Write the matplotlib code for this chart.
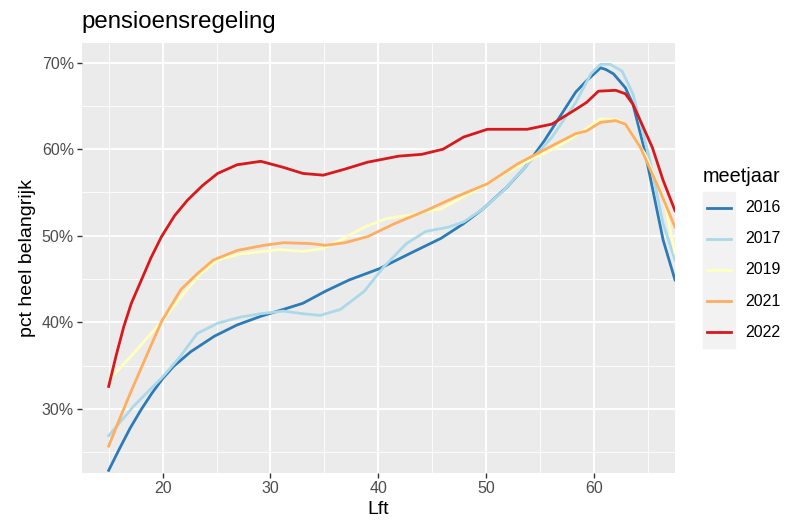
import matplotlib.pyplot as plt
import numpy as np

plt.rcParams['font.family'] = ['Liberation Sans', 'DejaVu Sans']

# leeftijd / percentage per meetjaar
jaren = ['2016', '2017', '2019', '2021', '2022']
kleuren = ['#2C7BB6', '#ABD9E9', '#FFFFBF', '#FDAE61', '#D7191C']

lft_2016 = [15, 16, 17, 18, 19, 20, 21, 22.6, 24.8, 26.9, 29.1, 31.2, 33, 35.1, 37.3, 40.1, 43, 45.8, 47.9, 49.7,
            51.9, 53.6, 55.4, 56.8, 58.3, 59.3, 60.6, 61.1, 61.8, 62.9, 63.6, 64.7, 66.4, 67.5]
pct_2016 = [22.9, 25.4, 27.8, 29.9, 31.8, 33.5, 34.9, 36.6, 38.4, 39.7, 40.7, 41.5, 42.2, 43.6, 44.9, 46.2, 48.0,
            49.7, 51.4, 53.1, 55.6, 57.9, 61.0, 63.7, 66.6, 67.9, 69.4, 69.2, 68.7, 67.1, 65.2, 59.8, 49.5, 44.9]

lft_2017 = [15, 17.3, 20, 21.6, 23.2, 25.1, 27.2, 29.1, 31.2, 33, 34.6, 36.5, 38.7, 40.5, 42.6, 44.4, 46.5, 47.9,
            49.7, 51.5, 53.3, 56.1, 58.3, 59.7, 60.6, 61.5, 62.6, 63.6, 65.1, 66.4, 67.5]
pct_2017 = [26.9, 30.3, 33.7, 36.0, 38.7, 39.9, 40.6, 41.0, 41.3, 41.0, 40.8, 41.5, 43.6, 46.4, 49.1, 50.5, 51.0,
            51.6, 53.1, 55.1, 57.5, 61.4, 65.4, 68.7, 69.8, 69.8, 69.0, 66.4, 59.1, 51.4, 47.2]

lft_2019 = [15, 17.3, 19.9, 21.7, 23.5, 25.1, 27.2, 29.4, 30.9, 33, 34.8, 36.5, 38.7, 40.8, 42.9, 45.8, 47.9,
            50.1, 52.2, 54.3, 56.5, 58.6, 60.6, 62.2, 62.9, 64.7, 66.5, 67.5]
pct_2019 = [33.3, 36.4, 40.1, 42.9, 45.6, 47.2, 47.9, 48.2, 48.4, 48.2, 48.5, 49.5, 51.0, 52.0, 52.4, 53.1, 54.5,
            56.0, 57.5, 58.9, 60.2, 61.8, 63.5, 63.4, 62.9, 59.5, 54.1, 48.0]

lft_2021 = [15, 16, 17, 18.6, 19.9, 21.7, 23.2, 24.7, 26.9, 29.4, 31.2, 33.7, 35.1, 36.9, 39, 41.5, 44.4, 47.2,
            50.1, 52.9, 55.8, 58.3, 59.3, 60.6, 62, 62.9, 64.3, 66.1, 67.5]
pct_2021 = [25.7, 28.8, 31.8, 36.4, 40.1, 43.8, 45.6, 47.2, 48.3, 48.9, 49.2, 49.1, 48.9, 49.2, 49.9, 51.4, 52.9,
            54.5, 56.0, 58.3, 60.2, 61.8, 62.1, 63.1, 63.3, 62.9, 60.2, 55.2, 51.0]

lft_2022 = [15, 15.7, 16.4, 17.1, 17.9, 18.9, 19.9, 21.1, 22.3, 23.7, 25.1, 26.9, 29.1, 31.2, 33, 34.9, 36.9, 39,
            41.9, 44, 46, 47.9, 50.1, 51.9, 53.8, 56.1, 58.3, 59.3, 60.4, 62, 62.9, 63.6, 65.4, 66.4, 67.5]
pct_2022 = [32.6, 36.2, 39.5, 42.2, 44.5, 47.4, 49.9, 52.3, 54.1, 55.8, 57.2, 58.2, 58.6, 57.9, 57.2, 57.0, 57.7,
            58.5, 59.2, 59.4, 60.0, 61.4, 62.3, 62.3, 62.3, 62.9, 64.6, 65.4, 66.7, 66.8, 66.4, 65.2, 60.2, 56.4, 52.9]

leeftijden = [lft_2016, lft_2017, lft_2019, lft_2021, lft_2022]
waarden = [pct_2016, pct_2017, pct_2019, pct_2021, pct_2022]

fig = plt.figure(figsize=(8.01, 5.21), dpi=100)
ax = fig.add_axes([81.7 / 801, 1 - 473 / 521, (675 - 81.7) / 801, (473 - 42.7) / 521])
ax.set_facecolor('#EBEBEB')

for lft, pct, jaar, kleur in zip(leeftijden, waarden, jaren, kleuren):
    ax.plot(lft, np.array(pct) / 100, color=kleur, lw=2, label=jaar, solid_joinstyle='round')

ax.set_xlim(12.5, 67.5)
ax.set_ylim(0.226, 0.723)
ax.set_xticks([20, 30, 40, 50, 60])
ax.set_xticks([15, 25, 35, 45, 55, 65], minor=True)
ax.set_yticks([0.3, 0.4, 0.5, 0.6, 0.7])
ax.set_yticks([0.25, 0.35, 0.45, 0.55, 0.65], minor=True)
ax.set_yticklabels(['30%', '40%', '50%', '60%', '70%'])
ax.grid(which='major', color='white', lw=1.3)
ax.grid(which='minor', color='white', lw=0.6)
ax.set_axisbelow(True)
for s in ax.spines.values():
    s.set_visible(False)
ax.tick_params(which='major', length=3.6, width=1, color='#333333', labelsize=11.5, labelcolor='#4D4D4D', pad=2)
ax.tick_params(which='minor', length=0)

ax.set_xlabel('Lft', fontsize=14, labelpad=4)
ax.set_ylabel('pct heel belangrijk', fontsize=14, labelpad=4)
fig.text(81.7 / 801, 1 - 28 / 521, 'pensioensregeling', fontsize=17.3, va='baseline', ha='left')

# legenda
fig.text(703 / 801, 1 - 176 / 521, 'meetjaar', fontsize=14.3, va='center', ha='left')
fig.patches.append(plt.Rectangle((703 / 801, 1 - 348 / 521), 32 / 801, 156 / 521,
                                 transform=fig.transFigure, color='#F2F2F2', zorder=0))
for i, (jaar, kleur) in enumerate(zip(jaren, kleuren)):
    yc = 1 - (207.5 + i * 31.2) / 521
    fig.add_artist(plt.Line2D([707 / 801, 731 / 801], [yc, yc], color=kleur, lw=2, transform=fig.transFigure))
    fig.text(745 / 801, yc, jaar, fontsize=11.5, va='center', ha='left')

fig.savefig('out.png', dpi=100)
